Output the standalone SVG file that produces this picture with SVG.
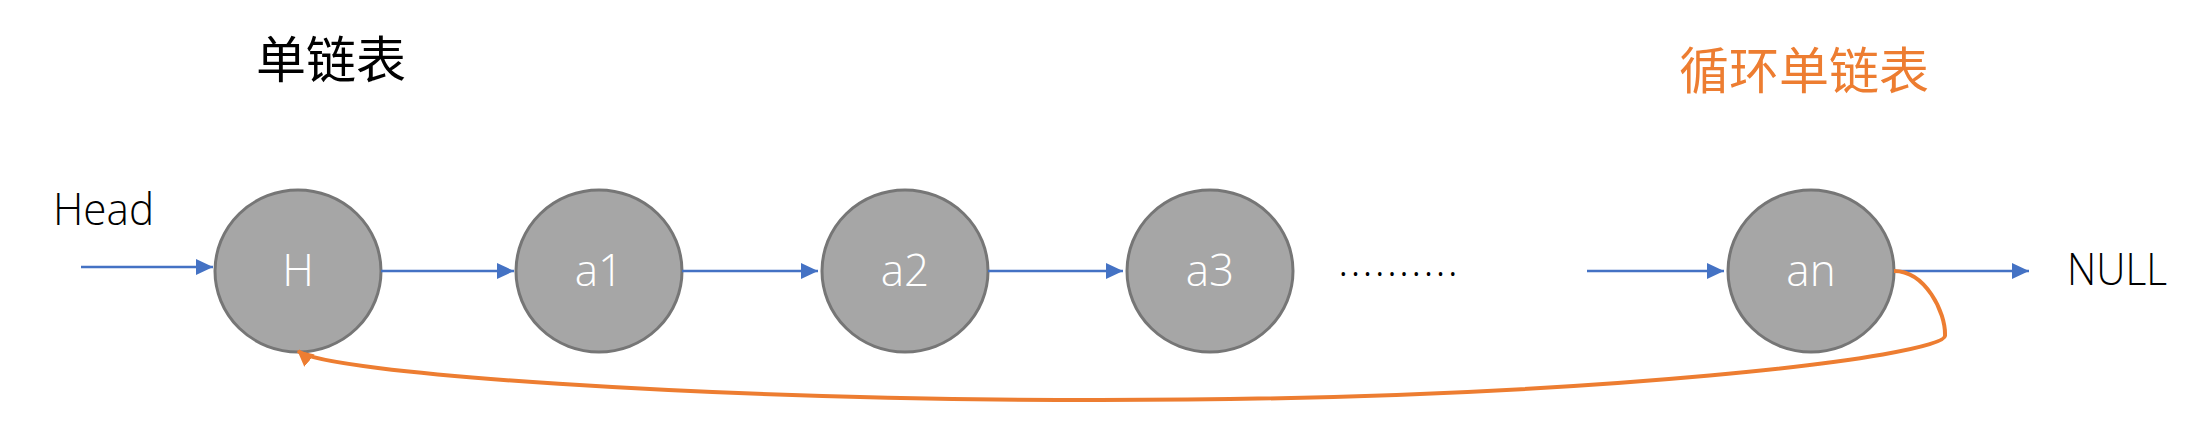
<svg xmlns="http://www.w3.org/2000/svg" width="2194" height="438" viewBox="0 0 2194 438">
  <style>
    .node ellipse { fill: #a6a6a6; stroke: #767676; stroke-width: 3; }
    .node text { fill: #ffffff; font-family: "Open Sans", "Noto Sans", sans-serif; font-weight: 300; font-size: 44px; text-anchor: middle; }
    .label { fill: #000000; font-family: "Open Sans", "Noto Sans", sans-serif; font-weight: 300; font-size: 44px; }
    .title { font-family: "Noto Sans CJK SC", "Noto Sans", sans-serif; font-size: 50px; text-anchor: middle; }
    .blue { stroke: #4472c4; stroke-width: 2.5; fill: none; marker-end: url(#arrowBlue); }
    .orange { stroke: #ed7d31; stroke-width: 4; fill: none; marker-end: url(#arrowOrange); }
  </style>
  <defs>
    <marker id="arrowBlue" markerUnits="userSpaceOnUse" markerWidth="17" markerHeight="16" refX="17" refY="8" orient="auto">
      <path d="M0,0 L17,8 L0,16 z" fill="#4472c4"/>
    </marker>
    <marker id="arrowOrange" markerUnits="userSpaceOnUse" markerWidth="16" markerHeight="16" refX="15" refY="8" orient="auto">
      <path d="M0,0 L16,8 L0,16 z" fill="#ed7d31"/>
    </marker>
  </defs>

  <g id="titles">
    <text class="title" x="331" y="78" fill="#000000">单链表</text>
    <text class="title" x="1804" y="89" fill="#ed7d31">循环单链表</text>
  </g>

  <g id="head-label">
    <text class="label" x="53" y="225" textLength="101" lengthAdjust="spacingAndGlyphs">Head</text>
  </g>
  <g id="null-label">
    <text class="label" x="2067" y="285" textLength="100" lengthAdjust="spacingAndGlyphs">NULL</text>
  </g>
  <g id="ellipsis">
    <text class="label" x="1338" y="276" textLength="120" lengthAdjust="spacing">..........</text>
  </g>

  <g id="node-H" class="node">
    <ellipse cx="298" cy="271" rx="83" ry="81"/>
    <text x="298" y="286">H</text>
  </g>
  <g id="node-a1" class="node">
    <ellipse cx="599" cy="271" rx="83" ry="81"/>
    <text x="599" y="286">a1</text>
  </g>
  <g id="node-a2" class="node">
    <ellipse cx="905" cy="271" rx="83" ry="81"/>
    <text x="905" y="286">a2</text>
  </g>
  <g id="node-a3" class="node">
    <ellipse cx="1210" cy="271" rx="83" ry="81"/>
    <text x="1210" y="286">a3</text>
  </g>
  <g id="node-an" class="node">
    <ellipse cx="1811" cy="271" rx="83" ry="81"/>
    <text x="1811" y="286">an</text>
  </g>

  <g id="connectors">
    <path class="blue" d="M81,267 L213,267"/>
    <path class="blue" d="M381,271 L514,271"/>
    <path class="blue" d="M682,271 L818,271"/>
    <path class="blue" d="M988,271 L1123,271"/>
    <path class="blue" d="M1587,271 L1724,271"/>
    <path class="blue" d="M1894,271 L2029,271"/>
    <path class="orange" d="M1894,271 C1925,271 1946,312 1945,336 C1944,356 1600,400 1100,400 C700,400 324,373 298,351"/>
  </g>
</svg>
